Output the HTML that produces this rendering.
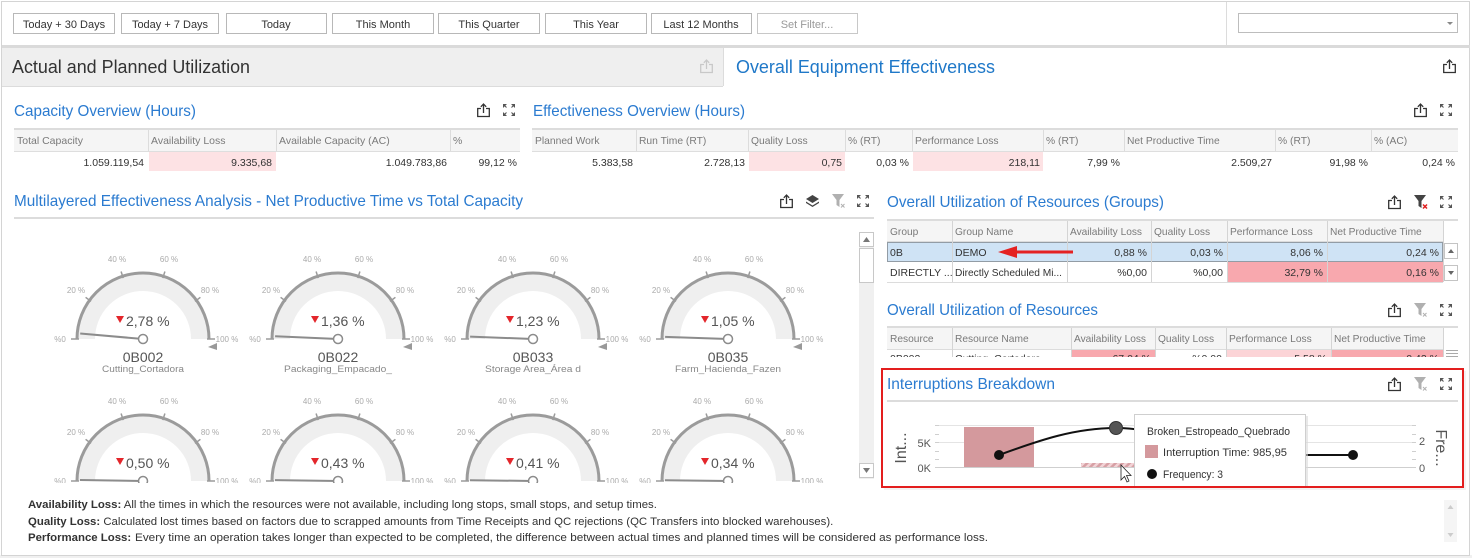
<!DOCTYPE html>
<html><head><meta charset="utf-8">
<style>
html,body{margin:0;padding:0;background:#fff;}
svg{display:block;font-family:"Liberation Sans",Arial,sans-serif;}
</style></head><body>
<svg width="1472" height="558" viewBox="0 0 1472 558" xmlns="http://www.w3.org/2000/svg">
<defs>
 <g id="share" fill="none" stroke="#333" stroke-width="1.3"><path d="M4,5.5 H0.7 V13.5 H12.3 V5.5 H9"/><path d="M6.5,10 V1.2"/><path d="M3.8,3.8 L6.5,1 L9.2,3.8"/></g>
 <g id="shareL" fill="none" stroke="#c8c8c8" stroke-width="1.3"><path d="M4,5.5 H0.7 V13.5 H12.3 V5.5 H9"/><path d="M6.5,10 V1.2"/><path d="M3.8,3.8 L6.5,1 L9.2,3.8"/></g>
 <g id="expand"><path d="M0,0 H4 L0,4Z M12,0 V4 L8,0Z M0,12 V8 L4,12Z M12,12 H8 L12,8Z" fill="#555"/><path d="M1,1 L3.5,3.5 M11,1 L8.5,3.5 M1,11 L3.5,8.5 M11,11 L8.5,8.5" stroke="#555" stroke-width="1.1"/></g>
 <g id="filterG"><path d="M0,0 H12 L7.5,6 V13 L4.5,11 V6 Z" fill="#b0b0b0"/><path d="M9,10 L12.5,13.5 M12.5,10 L9,13.5" stroke="#b0b0b0" stroke-width="1"/></g>
 <g id="filterR"><path d="M0,0 H12 L7.5,6 V13 L4.5,11 V6 Z" fill="#444"/><path d="M9,9.5 L13,13.5 M13,9.5 L9,13.5" stroke="#e02020" stroke-width="1.5"/></g>
 <g id="layers" fill="#444"><path d="M6.5,0 L13,4 L6.5,8 L0,4Z"/><path d="M0,6.5 L6.5,10.5 L13,6.5 L13,8 L6.5,12 L0,8Z"/></g>
 <pattern id="hatch" width="5" height="5" patternUnits="userSpaceOnUse" patternTransform="rotate(45)"><rect width="5" height="5" fill="#f2d3d6"/><rect width="2.5" height="5" fill="#d7a0a5"/></pattern>
 <clipPath id="gclip"><rect x="14" y="220" width="843" height="263"/></clipPath>
 <clipPath id="rclip"><rect x="880" y="349" width="580" height="8"/></clipPath>
 <clipPath id="ttclip"><rect x="1120" y="405" width="200" height="82"/></clipPath>
</defs>

<!-- outer frame -->
<rect x="0" y="0" width="1472" height="558" fill="#fff"/>
<rect x="0" y="555" width="1472" height="3" fill="#f0f0f0"/>
<rect x="1.5" y="1.5" width="1468" height="554" fill="none" stroke="#d4d4d4" stroke-width="1"/>

<!-- toolbar -->
<g font-size="11" fill="#333" text-anchor="middle">
 <rect x="13.5" y="13.5" width="101" height="20" fill="#fff" stroke="#b8b8b8"/><text x="64" y="28">Today + 30 Days</text>
 <rect x="121.5" y="13.5" width="97" height="20" fill="#fff" stroke="#b8b8b8"/><text x="170" y="28">Today + 7 Days</text>
 <rect x="226.5" y="13.5" width="100" height="20" fill="#fff" stroke="#b8b8b8"/><text x="276" y="28">Today</text>
 <rect x="332.5" y="13.5" width="101" height="20" fill="#fff" stroke="#b8b8b8"/><text x="383" y="28">This Month</text>
 <rect x="438.5" y="13.5" width="101" height="20" fill="#fff" stroke="#b8b8b8"/><text x="489" y="28">This Quarter</text>
 <rect x="545.5" y="13.5" width="101" height="20" fill="#fff" stroke="#b8b8b8"/><text x="596" y="28">This Year</text>
 <rect x="651.5" y="13.5" width="100" height="20" fill="#fff" stroke="#b8b8b8"/><text x="701" y="28">Last 12 Months</text>
 <rect x="757.5" y="13.5" width="100" height="20" fill="#fff" stroke="#c8c8c8"/><text x="807" y="28" fill="#9a9a9a">Set Filter...</text>
</g>
<line x1="1226.5" y1="2" x2="1226.5" y2="46" stroke="#dcdcdc"/>
<rect x="1238.5" y="13.5" width="219" height="19" fill="#fff" stroke="#bdbdbd"/>
<polygon points="1447,22 1453,22 1450,25" fill="#888"/>
<rect x="2" y="45" width="1468" height="3" fill="#dadada"/>

<!-- tabs -->
<rect x="2" y="48" width="721" height="38" fill="#efefef"/>
<line x1="2" y1="86.5" x2="723" y2="86.5" stroke="#dcdcdc"/>
<line x1="723.5" y1="48" x2="723.5" y2="86" stroke="#dcdcdc"/>
<text x="12" y="73" font-size="18" fill="#333" textLength="238" lengthAdjust="spacingAndGlyphs">Actual and Planned Utilization</text>
<use href="#shareL" x="700" y="59"/>
<text x="736" y="73" font-size="18" fill="#1f78c8" textLength="259" lengthAdjust="spacingAndGlyphs">Overall Equipment Effectiveness</text>
<use href="#share" x="1443" y="59"/>

<!-- Capacity Overview -->
<text x="14" y="116" font-size="16" fill="#2b7bd0" textLength="182" lengthAdjust="spacingAndGlyphs">Capacity Overview (Hours)</text>
<use href="#share" x="477" y="103"/>
<use href="#expand" x="503" y="104"/>
<rect x="14" y="128" width="506" height="2" fill="#dcdcdc"/>
<rect x="14" y="130" width="506" height="21" fill="#f5f5f5"/>
<line x1="14" y1="151.5" x2="520" y2="151.5" stroke="#dedede"/>
<g stroke="#dcdcdc"><line x1="148.5" y1="130" x2="148.5" y2="151"/><line x1="276.5" y1="130" x2="276.5" y2="151"/><line x1="450.5" y1="130" x2="450.5" y2="151"/></g>
<rect x="149" y="152" width="127" height="19" fill="#fde2e4"/>
<g font-size="10.5" fill="#7a7a7a"><text x="17" y="144">Total Capacity</text><text x="151" y="144">Availability Loss</text><text x="279" y="144">Available Capacity (AC)</text><text x="453" y="144">%</text></g>
<g font-size="10.5" fill="#333" text-anchor="end"><text x="144" y="166">1.059.119,54</text><text x="272" y="166">9.335,68</text><text x="447" y="166">1.049.783,86</text><text x="517" y="166">99,12 %</text></g>

<!-- Effectiveness Overview -->
<text x="533" y="116" font-size="16" fill="#2b7bd0" textLength="212" lengthAdjust="spacingAndGlyphs">Effectiveness Overview (Hours)</text>
<use href="#share" x="1414" y="103"/>
<use href="#expand" x="1440" y="104"/>
<rect x="532" y="128" width="926" height="2" fill="#dcdcdc"/>
<rect x="532" y="130" width="926" height="21" fill="#f5f5f5"/>
<line x1="532" y1="151.5" x2="1458" y2="151.5" stroke="#dedede"/>
<g stroke="#dcdcdc"><line x1="636.5" y1="130" x2="636.5" y2="151"/><line x1="748.5" y1="130" x2="748.5" y2="151"/><line x1="845.5" y1="130" x2="845.5" y2="151"/><line x1="912.5" y1="130" x2="912.5" y2="151"/><line x1="1043.5" y1="130" x2="1043.5" y2="151"/><line x1="1124.5" y1="130" x2="1124.5" y2="151"/><line x1="1275.5" y1="130" x2="1275.5" y2="151"/><line x1="1371.5" y1="130" x2="1371.5" y2="151"/></g>
<rect x="749" y="152" width="96" height="19" fill="#fde2e4"/>
<rect x="913" y="152" width="130" height="19" fill="#fde2e4"/>
<g font-size="10.3" fill="#7a7a7a"><text x="535" y="144">Planned Work</text><text x="639" y="144">Run Time (RT)</text><text x="751" y="144">Quality Loss</text><text x="848" y="144">% (RT)</text><text x="915" y="144">Performance Loss</text><text x="1046" y="144">% (RT)</text><text x="1127" y="144">Net Productive Time</text><text x="1278" y="144">% (RT)</text><text x="1374" y="144">% (AC)</text></g>
<g font-size="10.5" fill="#333" text-anchor="end"><text x="633" y="166">5.383,58</text><text x="745" y="166">2.728,13</text><text x="842" y="166">0,75</text><text x="909" y="166">0,03 %</text><text x="1040" y="166">218,11</text><text x="1120" y="166">7,99 %</text><text x="1272" y="166">2.509,27</text><text x="1368" y="166">91,98 %</text><text x="1455" y="166">0,24 %</text></g>

<!-- Multilayered -->
<text x="14" y="206" font-size="16" fill="#2b7bd0" textLength="509" lengthAdjust="spacingAndGlyphs">Multilayered Effectiveness Analysis - Net Productive Time vs Total Capacity</text>
<use href="#share" x="780" y="194"/>
<use href="#layers" x="806" y="195"/>
<use href="#filterG" x="832" y="194"/>
<use href="#expand" x="857" y="195"/>
<rect x="14" y="217" width="860" height="2" fill="#dcdcdc"/>

<!-- scrollbar gauges -->
<rect x="859" y="232" width="15" height="247" fill="#f0f0f0"/>
<rect x="859.5" y="232.5" width="14" height="14" fill="#fff" stroke="#c8c8c8"/>
<polygon points="863,242 870,242 866.5,237" fill="#777"/>
<rect x="859.5" y="248.5" width="14" height="34" fill="#fff" stroke="#c8c8c8"/>
<rect x="859.5" y="463.5" width="14" height="14" fill="#fff" stroke="#c8c8c8"/>
<polygon points="863,468 870,468 866.5,473" fill="#777"/>

<g clip-path="url(#gclip)">
<!-- Gauge row 1 -->
<g transform="translate(143,339)">
<path d="M-57,0 A57,57 0 0 1 57,0" fill="none" stroke="#efefef" stroke-width="18"/>
<path d="M-66,0 A66,66 0 0 1 66,0" fill="none" stroke="#9b9b9b" stroke-width="3"/>
<path d="M-64,0 H-72 M64,0 H72 M-52,-37.6 L-57.4,-41.7 M-19.8,-60.9 L-21.9,-67.5 M19.8,-60.9 L21.9,-67.5 M52,-37.6 L57.4,-41.7" stroke="#9b9b9b" stroke-width="1.5"/>
<g font-size="8" fill="#aaa" text-anchor="middle"><text x="-83" y="3">%0</text><text x="-67" y="-46">20 %</text><text x="-26" y="-77">40 %</text><text x="26" y="-77">60 %</text><text x="67" y="-46">80 %</text><text x="84" y="3">100 %</text></g>
<polygon points="74,4 74,11 65,8" fill="#999"/>
<line x1="0" y1="0" x2="-62.8" y2="-5.5" stroke="#8c8c8c" stroke-width="2"/>
<circle r="4.5" fill="#fff" stroke="#8c8c8c" stroke-width="1.5"/>
<polygon points="-27,-23 -19,-23 -23,-16" fill="#e3262b"/>
<text x="-17" y="-13" font-size="14" fill="#555">2,78 %</text>
<text x="0" y="23" font-size="14" fill="#555" text-anchor="middle">0B002</text>
<text x="0" y="33" font-size="9" fill="#888" text-anchor="middle" textLength="82" lengthAdjust="spacingAndGlyphs">Cutting_Cortadora</text>
</g>
<g transform="translate(338,339)">
<path d="M-57,0 A57,57 0 0 1 57,0" fill="none" stroke="#efefef" stroke-width="18"/>
<path d="M-66,0 A66,66 0 0 1 66,0" fill="none" stroke="#9b9b9b" stroke-width="3"/>
<path d="M-64,0 H-72 M64,0 H72 M-52,-37.6 L-57.4,-41.7 M-19.8,-60.9 L-21.9,-67.5 M19.8,-60.9 L21.9,-67.5 M52,-37.6 L57.4,-41.7" stroke="#9b9b9b" stroke-width="1.5"/>
<g font-size="8" fill="#aaa" text-anchor="middle"><text x="-83" y="3">%0</text><text x="-67" y="-46">20 %</text><text x="-26" y="-77">40 %</text><text x="26" y="-77">60 %</text><text x="67" y="-46">80 %</text><text x="84" y="3">100 %</text></g>
<polygon points="74,4 74,11 65,8" fill="#999"/>
<line x1="0" y1="0" x2="-62.9" y2="-2.7" stroke="#8c8c8c" stroke-width="2"/>
<circle r="4.5" fill="#fff" stroke="#8c8c8c" stroke-width="1.5"/>
<polygon points="-27,-23 -19,-23 -23,-16" fill="#e3262b"/>
<text x="-17" y="-13" font-size="14" fill="#555">1,36 %</text>
<text x="0" y="23" font-size="14" fill="#555" text-anchor="middle">0B022</text>
<text x="0" y="33" font-size="9" fill="#888" text-anchor="middle" textLength="108" lengthAdjust="spacingAndGlyphs">Packaging_Empacado_</text>
</g>
<g transform="translate(533,339)">
<path d="M-57,0 A57,57 0 0 1 57,0" fill="none" stroke="#efefef" stroke-width="18"/>
<path d="M-66,0 A66,66 0 0 1 66,0" fill="none" stroke="#9b9b9b" stroke-width="3"/>
<path d="M-64,0 H-72 M64,0 H72 M-52,-37.6 L-57.4,-41.7 M-19.8,-60.9 L-21.9,-67.5 M19.8,-60.9 L21.9,-67.5 M52,-37.6 L57.4,-41.7" stroke="#9b9b9b" stroke-width="1.5"/>
<g font-size="8" fill="#aaa" text-anchor="middle"><text x="-83" y="3">%0</text><text x="-67" y="-46">20 %</text><text x="-26" y="-77">40 %</text><text x="26" y="-77">60 %</text><text x="67" y="-46">80 %</text><text x="84" y="3">100 %</text></g>
<polygon points="74,4 74,11 65,8" fill="#999"/>
<line x1="0" y1="0" x2="-62.9" y2="-2.4" stroke="#8c8c8c" stroke-width="2"/>
<circle r="4.5" fill="#fff" stroke="#8c8c8c" stroke-width="1.5"/>
<polygon points="-27,-23 -19,-23 -23,-16" fill="#e3262b"/>
<text x="-17" y="-13" font-size="14" fill="#555">1,23 %</text>
<text x="0" y="23" font-size="14" fill="#555" text-anchor="middle">0B033</text>
<text x="0" y="33" font-size="9" fill="#888" text-anchor="middle" textLength="96" lengthAdjust="spacingAndGlyphs">Storage Area_Área d</text>
</g>
<g transform="translate(728,339)">
<path d="M-57,0 A57,57 0 0 1 57,0" fill="none" stroke="#efefef" stroke-width="18"/>
<path d="M-66,0 A66,66 0 0 1 66,0" fill="none" stroke="#9b9b9b" stroke-width="3"/>
<path d="M-64,0 H-72 M64,0 H72 M-52,-37.6 L-57.4,-41.7 M-19.8,-60.9 L-21.9,-67.5 M19.8,-60.9 L21.9,-67.5 M52,-37.6 L57.4,-41.7" stroke="#9b9b9b" stroke-width="1.5"/>
<g font-size="8" fill="#aaa" text-anchor="middle"><text x="-83" y="3">%0</text><text x="-67" y="-46">20 %</text><text x="-26" y="-77">40 %</text><text x="26" y="-77">60 %</text><text x="67" y="-46">80 %</text><text x="84" y="3">100 %</text></g>
<polygon points="74,4 74,11 65,8" fill="#999"/>
<line x1="0" y1="0" x2="-62.9" y2="-2.1" stroke="#8c8c8c" stroke-width="2"/>
<circle r="4.5" fill="#fff" stroke="#8c8c8c" stroke-width="1.5"/>
<polygon points="-27,-23 -19,-23 -23,-16" fill="#e3262b"/>
<text x="-17" y="-13" font-size="14" fill="#555">1,05 %</text>
<text x="0" y="23" font-size="14" fill="#555" text-anchor="middle">0B035</text>
<text x="0" y="33" font-size="9" fill="#888" text-anchor="middle" textLength="106" lengthAdjust="spacingAndGlyphs">Farm_Hacienda_Fazen</text>
</g>
<!-- Gauge row 2 -->
<g transform="translate(143,481)">
<path d="M-57,0 A57,57 0 0 1 57,0" fill="none" stroke="#efefef" stroke-width="18"/>
<path d="M-66,0 A66,66 0 0 1 66,0" fill="none" stroke="#9b9b9b" stroke-width="3"/>
<path d="M-64,0 H-72 M64,0 H72 M-52,-37.6 L-57.4,-41.7 M-19.8,-60.9 L-21.9,-67.5 M19.8,-60.9 L21.9,-67.5 M52,-37.6 L57.4,-41.7" stroke="#9b9b9b" stroke-width="1.5"/>
<g font-size="8" fill="#aaa" text-anchor="middle"><text x="-83" y="3">%0</text><text x="-67" y="-46">20 %</text><text x="-26" y="-77">40 %</text><text x="26" y="-77">60 %</text><text x="67" y="-46">80 %</text><text x="84" y="3">100 %</text></g>
<line x1="0" y1="0" x2="-63" y2="-1" stroke="#8c8c8c" stroke-width="2"/>
<circle r="4.5" fill="#fff" stroke="#8c8c8c" stroke-width="1.5"/>
<polygon points="-27,-23 -19,-23 -23,-16" fill="#e3262b"/>
<text x="-17" y="-13" font-size="14" fill="#555">0,50 %</text>
</g>
<g transform="translate(338,481)">
<path d="M-57,0 A57,57 0 0 1 57,0" fill="none" stroke="#efefef" stroke-width="18"/>
<path d="M-66,0 A66,66 0 0 1 66,0" fill="none" stroke="#9b9b9b" stroke-width="3"/>
<path d="M-64,0 H-72 M64,0 H72 M-52,-37.6 L-57.4,-41.7 M-19.8,-60.9 L-21.9,-67.5 M19.8,-60.9 L21.9,-67.5 M52,-37.6 L57.4,-41.7" stroke="#9b9b9b" stroke-width="1.5"/>
<g font-size="8" fill="#aaa" text-anchor="middle"><text x="-83" y="3">%0</text><text x="-67" y="-46">20 %</text><text x="-26" y="-77">40 %</text><text x="26" y="-77">60 %</text><text x="67" y="-46">80 %</text><text x="84" y="3">100 %</text></g>
<line x1="0" y1="0" x2="-63" y2="-0.9" stroke="#8c8c8c" stroke-width="2"/>
<circle r="4.5" fill="#fff" stroke="#8c8c8c" stroke-width="1.5"/>
<polygon points="-27,-23 -19,-23 -23,-16" fill="#e3262b"/>
<text x="-17" y="-13" font-size="14" fill="#555">0,43 %</text>
</g>
<g transform="translate(533,481)">
<path d="M-57,0 A57,57 0 0 1 57,0" fill="none" stroke="#efefef" stroke-width="18"/>
<path d="M-66,0 A66,66 0 0 1 66,0" fill="none" stroke="#9b9b9b" stroke-width="3"/>
<path d="M-64,0 H-72 M64,0 H72 M-52,-37.6 L-57.4,-41.7 M-19.8,-60.9 L-21.9,-67.5 M19.8,-60.9 L21.9,-67.5 M52,-37.6 L57.4,-41.7" stroke="#9b9b9b" stroke-width="1.5"/>
<g font-size="8" fill="#aaa" text-anchor="middle"><text x="-83" y="3">%0</text><text x="-67" y="-46">20 %</text><text x="-26" y="-77">40 %</text><text x="26" y="-77">60 %</text><text x="67" y="-46">80 %</text><text x="84" y="3">100 %</text></g>
<line x1="0" y1="0" x2="-63" y2="-0.8" stroke="#8c8c8c" stroke-width="2"/>
<circle r="4.5" fill="#fff" stroke="#8c8c8c" stroke-width="1.5"/>
<polygon points="-27,-23 -19,-23 -23,-16" fill="#e3262b"/>
<text x="-17" y="-13" font-size="14" fill="#555">0,41 %</text>
</g>
<g transform="translate(728,481)">
<path d="M-57,0 A57,57 0 0 1 57,0" fill="none" stroke="#efefef" stroke-width="18"/>
<path d="M-66,0 A66,66 0 0 1 66,0" fill="none" stroke="#9b9b9b" stroke-width="3"/>
<path d="M-64,0 H-72 M64,0 H72 M-52,-37.6 L-57.4,-41.7 M-19.8,-60.9 L-21.9,-67.5 M19.8,-60.9 L21.9,-67.5 M52,-37.6 L57.4,-41.7" stroke="#9b9b9b" stroke-width="1.5"/>
<g font-size="8" fill="#aaa" text-anchor="middle"><text x="-83" y="3">%0</text><text x="-67" y="-46">20 %</text><text x="-26" y="-77">40 %</text><text x="26" y="-77">60 %</text><text x="67" y="-46">80 %</text><text x="84" y="3">100 %</text></g>
<line x1="0" y1="0" x2="-63" y2="-0.7" stroke="#8c8c8c" stroke-width="2"/>
<circle r="4.5" fill="#fff" stroke="#8c8c8c" stroke-width="1.5"/>
<polygon points="-27,-23 -19,-23 -23,-16" fill="#e3262b"/>
<text x="-17" y="-13" font-size="14" fill="#555">0,34 %</text>
</g>
</g>

<!-- Footnotes -->
<g font-size="11.4" fill="#333">
<text x="28" y="508"><tspan font-weight="bold">Availability Loss:</tspan> All the times in which the resources were not available, including long stops, small stops, and setup times.</text>
<text x="28" y="525"><tspan font-weight="bold">Quality Loss:</tspan> Calculated lost times based on factors due to scrapped amounts from Time Receipts and QC rejections (QC Transfers into blocked warehouses).</text>
<text x="28" y="541" font-weight="bold">Performance Loss:</text>
<text x="135" y="541" textLength="853" lengthAdjust="spacingAndGlyphs">Every time an operation takes longer than expected to be completed, the difference between actual times and planned times will be considered as performance loss.</text>
</g>
<rect x="1444" y="500" width="13" height="42" fill="#f5f5f5"/>
<polygon points="1447.5,509 1453.5,509 1450.5,505" fill="#ccc"/>
<polygon points="1447.5,533 1453.5,533 1450.5,537" fill="#ccc"/>

<!-- Groups table -->
<text x="887" y="207" font-size="16" fill="#2b7bd0" textLength="277" lengthAdjust="spacingAndGlyphs">Overall Utilization of Resources (Groups)</text>
<use href="#share" x="1388" y="195"/>
<use href="#filterR" x="1414" y="195"/>
<use href="#expand" x="1440" y="196"/>
<rect x="887" y="219" width="571" height="2" fill="#dcdcdc"/>
<rect x="887" y="221" width="556" height="20" fill="#f5f5f5"/>
<rect x="887" y="242" width="556" height="20" fill="#cfe3f5"/>
<rect x="887.5" y="242.5" width="555" height="19" fill="none" stroke="#555" stroke-dasharray="1,1"/>
<rect x="1227" y="262" width="216" height="20" fill="#f8a8ae"/>
<line x1="887" y1="282.5" x2="1443" y2="282.5" stroke="#dcdcdc"/>
<line x1="887" y1="241.5" x2="1443" y2="241.5" stroke="#dcdcdc"/>
<g stroke="#d4d4d4"><line x1="952.5" y1="221" x2="952.5" y2="282"/><line x1="1067.5" y1="221" x2="1067.5" y2="282"/><line x1="1151.5" y1="221" x2="1151.5" y2="282"/><line x1="1227.5" y1="221" x2="1227.5" y2="282"/><line x1="1327.5" y1="221" x2="1327.5" y2="282"/><line x1="1443.5" y1="221" x2="1443.5" y2="282"/></g>
<g font-size="10.2" fill="#7a7a7a"><text x="890" y="235">Group</text><text x="955" y="235">Group Name</text><text x="1070" y="235" textLength="72" lengthAdjust="spacingAndGlyphs">Availability Loss</text><text x="1154" y="235">Quality Loss</text><text x="1230" y="235">Performance Loss</text><text x="1330" y="235">Net Productive Time</text></g>
<g font-size="10.5" fill="#333"><text x="890" y="256">0B</text><text x="955" y="256">DEMO</text><text x="890" y="276">DIRECTLY ...</text><text x="955" y="276" textLength="107" lengthAdjust="spacingAndGlyphs">Directly Scheduled Mi...</text></g>
<g font-size="10.5" fill="#333" text-anchor="end"><text x="1147" y="256">0,88 %</text><text x="1223" y="256">0,03 %</text><text x="1323" y="256">8,06 %</text><text x="1439" y="256">0,24 %</text><text x="1147" y="276">%0,00</text><text x="1223" y="276">%0,00</text><text x="1323" y="276">32,79 %</text><text x="1439" y="276">0,16 %</text></g>
<rect x="1444.5" y="243.5" width="13" height="15" fill="#fff" stroke="#c4c4c4"/>
<polygon points="1448,253 1454,253 1451,249" fill="#666"/>
<rect x="1444.5" y="265.5" width="13" height="15" fill="#fff" stroke="#c4c4c4"/>
<polygon points="1448,271 1454,271 1451,275" fill="#666"/>
<!-- red arrow -->
<line x1="1073" y1="252" x2="1014" y2="252" stroke="#e42222" stroke-width="3"/>
<polygon points="998,252 1017,246 1017,258" fill="#e42222"/>

<!-- Resources table -->
<text x="887" y="315" font-size="16" fill="#2b7bd0" textLength="211" lengthAdjust="spacingAndGlyphs">Overall Utilization of Resources</text>
<use href="#share" x="1388" y="303"/>
<use href="#filterG" x="1414" y="303"/>
<use href="#expand" x="1440" y="304"/>
<rect x="887" y="326" width="571" height="2" fill="#dcdcdc"/>
<rect x="887" y="328" width="556" height="21" fill="#f5f5f5"/>
<line x1="887" y1="349.5" x2="1443" y2="349.5" stroke="#dcdcdc"/>
<g clip-path="url(#rclip)">
<rect x="1071" y="350" width="84" height="10" fill="#f8a8ae"/>
<rect x="1226" y="350" width="105" height="10" fill="#fcd4d7"/>
<rect x="1331" y="350" width="112" height="10" fill="#f8a8ae"/>
<g font-size="10.5" fill="#333"><text x="890" y="362">0B002</text><text x="955" y="362">Cutting_Cortadora</text></g>
<g font-size="10.5" fill="#333" text-anchor="end"><text x="1151" y="362">67,04 %</text><text x="1222" y="362">%0,00</text><text x="1327" y="362">5,58 %</text><text x="1439" y="362">0,42 %</text></g>
</g>
<g stroke="#d4d4d4"><line x1="952.5" y1="328" x2="952.5" y2="357"/><line x1="1071.5" y1="328" x2="1071.5" y2="357"/><line x1="1155.5" y1="328" x2="1155.5" y2="357"/><line x1="1226.5" y1="328" x2="1226.5" y2="357"/><line x1="1331.5" y1="328" x2="1331.5" y2="357"/><line x1="1443.5" y1="328" x2="1443.5" y2="357"/></g>
<g font-size="10.2" fill="#7a7a7a"><text x="890" y="342">Resource</text><text x="955" y="342">Resource Name</text><text x="1074" y="342" textLength="72" lengthAdjust="spacingAndGlyphs">Availability Loss</text><text x="1158" y="342">Quality Loss</text><text x="1229" y="342">Performance Loss</text><text x="1334" y="342">Net Productive Time</text></g>
<g stroke="#aaa"><line x1="1446" y1="350.5" x2="1458" y2="350.5"/><line x1="1446" y1="353.5" x2="1458" y2="353.5"/><line x1="1446" y1="356.5" x2="1458" y2="356.5"/></g>

<!-- Interruptions Breakdown -->
<rect x="884" y="371" width="582" height="119" fill="#e8e8e8" opacity="0.5"/>
<rect x="882" y="369" width="581" height="118" fill="#fff"/>
<text x="887" y="389" font-size="16" fill="#2b7bd0" textLength="168" lengthAdjust="spacingAndGlyphs">Interruptions Breakdown</text>
<use href="#share" x="1388" y="377"/>
<use href="#filterG" x="1414" y="377"/>
<use href="#expand" x="1440" y="378"/>
<rect x="887" y="400" width="571" height="2" fill="#dcdcdc"/>
<!-- chart -->
<g stroke="#e4e4e4"><line x1="939" y1="425.5" x2="1412" y2="425.5"/><line x1="939" y1="442.5" x2="1412" y2="442.5"/></g>
<line x1="939" y1="467.5" x2="1412" y2="467.5" stroke="#cfcfcf"/>
<g stroke="#cfcfcf"><path d="M935,425.5 H939 M935,434.5 H939 M935,442.5 H939 M935,451.5 H939 M935,459.5 H939 M935,467.5 H939"/><path d="M1412,425.5 H1416 M1412,434.5 H1416 M1412,442.5 H1416 M1412,451.5 H1416 M1412,459.5 H1416 M1412,467.5 H1416"/></g>
<g font-size="11" fill="#555" text-anchor="end"><text x="931" y="447">5K</text><text x="931" y="472">0K</text></g>
<g font-size="11" fill="#555"><text x="1419" y="445">2</text><text x="1419" y="472">0</text></g>
<text transform="translate(906,448) rotate(-90)" font-size="16" fill="#555" text-anchor="middle">Int...</text>
<text transform="translate(1436,448) rotate(90)" font-size="16" fill="#555" text-anchor="middle">Fre...</text>
<rect x="964" y="427" width="70" height="40" fill="#d4999d"/>
<rect x="1081" y="463" width="55" height="4" fill="url(#hatch)"/>
<path d="M999,455 C1040,440 1075,428 1116,428 C1170,428 1200,455 1260,455 L1353,455" fill="none" stroke="#111" stroke-width="2"/>
<circle cx="999" cy="455" r="5" fill="#111"/>
<circle cx="1116" cy="428" r="6.5" fill="#555" stroke="#333" stroke-width="1"/>
<circle cx="1353" cy="455" r="5" fill="#111"/>
<!-- tooltip -->
<g clip-path="url(#ttclip)">
<rect x="1136" y="416" width="172" height="80" fill="#d8d8d8" opacity="0.6"/>
<rect x="1134.5" y="414.5" width="171" height="80" fill="#fff" stroke="#cfcfcf"/>
<text x="1147" y="435" font-size="11" fill="#333" textLength="143" lengthAdjust="spacingAndGlyphs">Broken_Estropeado_Quebrado</text>
<rect x="1145" y="445" width="13" height="13" fill="#d4999d"/>
<text x="1163" y="456" font-size="11" fill="#333" textLength="124" lengthAdjust="spacingAndGlyphs">Interruption Time: 985,95</text>
<circle cx="1152" cy="474" r="5" fill="#111"/>
<text x="1163" y="478" font-size="11" fill="#333" textLength="60" lengthAdjust="spacingAndGlyphs">Frequency: 3</text>
</g>
<!-- cursor -->
<polygon points="1121,465 1121,480 1124.5,476.5 1127,482 1129,481 1126.5,475.5 1131,475.5" fill="#fff" stroke="#222" stroke-width="0.8"/>
<rect x="882" y="369" width="581" height="118" fill="none" stroke="#e31e1e" stroke-width="2"/>
</svg>
</body></html>
